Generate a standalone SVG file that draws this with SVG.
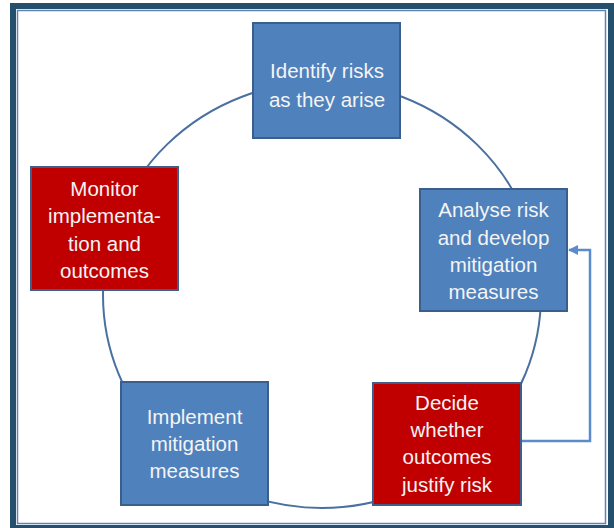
<svg xmlns="http://www.w3.org/2000/svg" width="614" height="528" viewBox="0 0 614 528">
  <style>
    .frame-outer { fill: none; stroke: #24506e; stroke-width: 6; }
    .frame-inner { fill: none; stroke: #5f82b5; stroke-width: 1.5; }
    .cycle { fill: none; stroke: #4a70a0; stroke-width: 2; }
    .step-blue { fill: #4f81bd; stroke: #3b5f8c; stroke-width: 2; }
    .step-red { fill: #c00000; stroke: #3f5f8a; stroke-width: 2; }
    .label { font-family: "Liberation Sans", Arial, sans-serif; font-size: 20.5px; fill: #f4f4f4; text-anchor: middle; }
    .feedback { fill: none; stroke: #5a8ccc; stroke-width: 2.5; }
  </style>
  <defs>
    <marker id="arrow" viewBox="0 0 10 10" refX="9" refY="5" markerWidth="4" markerHeight="4" orient="auto" markerUnits="strokeWidth">
      <path d="M0,0 L10,5 L0,10 z" fill="#5a8ccc"/>
    </marker>
  </defs>

  <rect class="frame-outer" x="13" y="6" width="598" height="522"/>
  <rect class="frame-inner" x="17.5" y="10.5" width="588" height="513"/>

  <g id="connectors">
    <ellipse class="cycle" cx="322" cy="295" rx="219" ry="213"/>
    <polyline class="feedback" points="521,441 590,441 590,250 569,250" marker-end="url(#arrow)"/>
  </g>

  <g id="identify">
    <rect class="step-blue" x="253" y="23" width="147" height="115"/>
    <text class="label" x="327" y="78">Identify risks</text>
    <text class="label" x="327" y="107">as they arise</text>
  </g>

  <g id="analyse">
    <rect class="step-blue" x="420" y="189" width="147" height="122"/>
    <text class="label" x="493.5" y="217">Analyse risk</text>
    <text class="label" x="493.5" y="245">and develop</text>
    <text class="label" x="493.5" y="272">mitigation</text>
    <text class="label" x="493.5" y="299">measures</text>
  </g>

  <g id="decide">
    <rect class="step-red" x="373" y="383" width="148" height="122"/>
    <text class="label" x="447" y="410">Decide</text>
    <text class="label" x="447" y="437">whether</text>
    <text class="label" x="447" y="464">outcomes</text>
    <text class="label" x="447" y="492">justify risk</text>
  </g>

  <g id="implement">
    <rect class="step-blue" x="121" y="382" width="147" height="123"/>
    <text class="label" x="194.5" y="424">Implement</text>
    <text class="label" x="194.5" y="451">mitigation</text>
    <text class="label" x="194.5" y="478">measures</text>
  </g>

  <g id="monitor">
    <rect class="step-red" x="31" y="167" width="147" height="123"/>
    <text class="label" x="104.5" y="196">Monitor</text>
    <text class="label" x="104.5" y="223">implementa-</text>
    <text class="label" x="104.5" y="251">tion and</text>
    <text class="label" x="104.5" y="278">outcomes</text>
  </g>
</svg>
